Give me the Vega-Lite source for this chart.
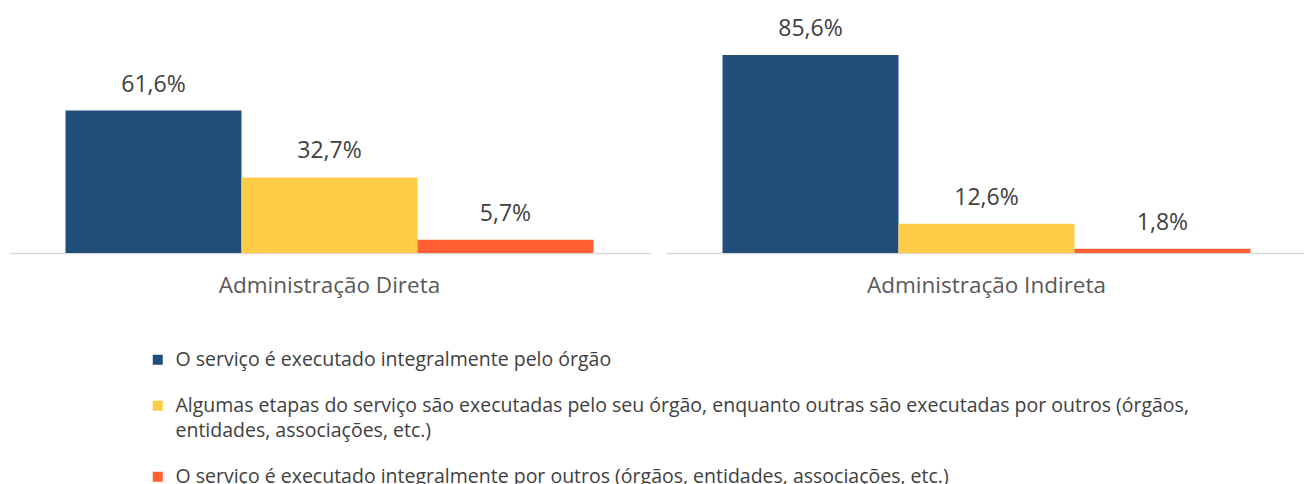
{
  "$schema": "https://vega.github.io/schema/vega-lite/v6.json",
  "padding": {"left": 9, "top": 0, "right": 0, "bottom": 0},
  "autosize": {"type": "pad"},
  "config": {
    "locale": {"number": {"decimal": ",", "thousands": ".", "grouping": [3], "currency": ["", ""]}},
    "view": {"stroke": null},
    "font": "Open Sans",
    "style": {"guide-label": {"lineHeight": 25}}
  },
  "data": {
    "values": [
      {"grupo": "Administração Direta", "categoria": "O serviço é executado integralmente pelo órgão", "valor": 0.616},
      {"grupo": "Administração Direta", "categoria": "Algumas etapas do serviço são executadas pelo seu órgão, enquanto outras são executadas por outros (órgãos, entidades, associações, etc.)", "valor": 0.327},
      {"grupo": "Administração Direta", "categoria": "O serviço é executado integralmente por outros (órgãos, entidades, associações, etc.)", "valor": 0.057},
      {"grupo": "Administração Indireta", "categoria": "O serviço é executado integralmente pelo órgão", "valor": 0.856},
      {"grupo": "Administração Indireta", "categoria": "Algumas etapas do serviço são executadas pelo seu órgão, enquanto outras são executadas por outros (órgãos, entidades, associações, etc.)", "valor": 0.126},
      {"grupo": "Administração Indireta", "categoria": "O serviço é executado integralmente por outros (órgãos, entidades, associações, etc.)", "valor": 0.018}
    ]
  },
  "facet": {
    "column": {
      "field": "grupo", "type": "nominal", "title": null,
      "header": {"title": null, "labelOrient": "bottom", "labelFontSize": 22.5, "labelColor": "#595959", "labelPadding": 22, "labelLimit": 0, "labelFont": "Open Sans"}
    }
  },
  "spacing": 16,
  "spec": {
    "width": 641,
    "height": 253,
    "encoding": {
      "x": {
        "field": "categoria", "type": "nominal", "title": null,
        "sort": [
          "O serviço é executado integralmente pelo órgão",
          "Algumas etapas do serviço são executadas pelo seu órgão, enquanto outras são executadas por outros (órgãos, entidades, associações, etc.)",
          "O serviço é executado integralmente por outros (órgãos, entidades, associações, etc.)"
        ],
        "scale": {"paddingInner": 0, "paddingOuter": 0.321},
        "axis": {"labels": false, "ticks": false, "domainColor": "#d9d9d9", "domainWidth": 1.5}
      },
      "y": {"field": "valor", "type": "quantitative", "scale": {"domain": [0, 1.094]}, "axis": null}
    },
    "layer": [
      {
        "mark": {"type": "bar"},
        "encoding": {
          "color": {
            "field": "categoria", "type": "nominal", "title": null,
            "scale": {
              "domain": [
                "O serviço é executado integralmente pelo órgão",
                "Algumas etapas do serviço são executadas pelo seu órgão, enquanto outras são executadas por outros (órgãos, entidades, associações, etc.)",
                "O serviço é executado integralmente por outros (órgãos, entidades, associações, etc.)"
              ],
              "range": ["#1F4E79", "#FFCC47", "#FF5F33"]
            },
            "legend": {
              "orient": "none", "legendX": 139, "legendY": 350, "direction": "vertical",
              "symbolType": "square", "symbolSize": 100, "symbolStrokeWidth": 0,
              "labelFontSize": 19.5, "labelColor": "#404040", "labelLimit": 1200, "labelOffset": 8,
              "rowPadding": 25, "labelBaseline": "middle",
              "labelExpr": "indexof(datum.label, 'Algumas') == 0 ? [slice(datum.label, 0, indexof(datum.label, ' entidades')), slice(datum.label, indexof(datum.label, ' entidades') + 1)] : datum.label"
            }
          }
        }
      },
      {
        "mark": {"type": "text", "dy": -26, "fontSize": 23, "color": "#404040", "baseline": "middle"},
        "encoding": {
          "text": {"field": "valor", "type": "quantitative", "format": ".1%"}
        }
      }
    ]
  }
}
